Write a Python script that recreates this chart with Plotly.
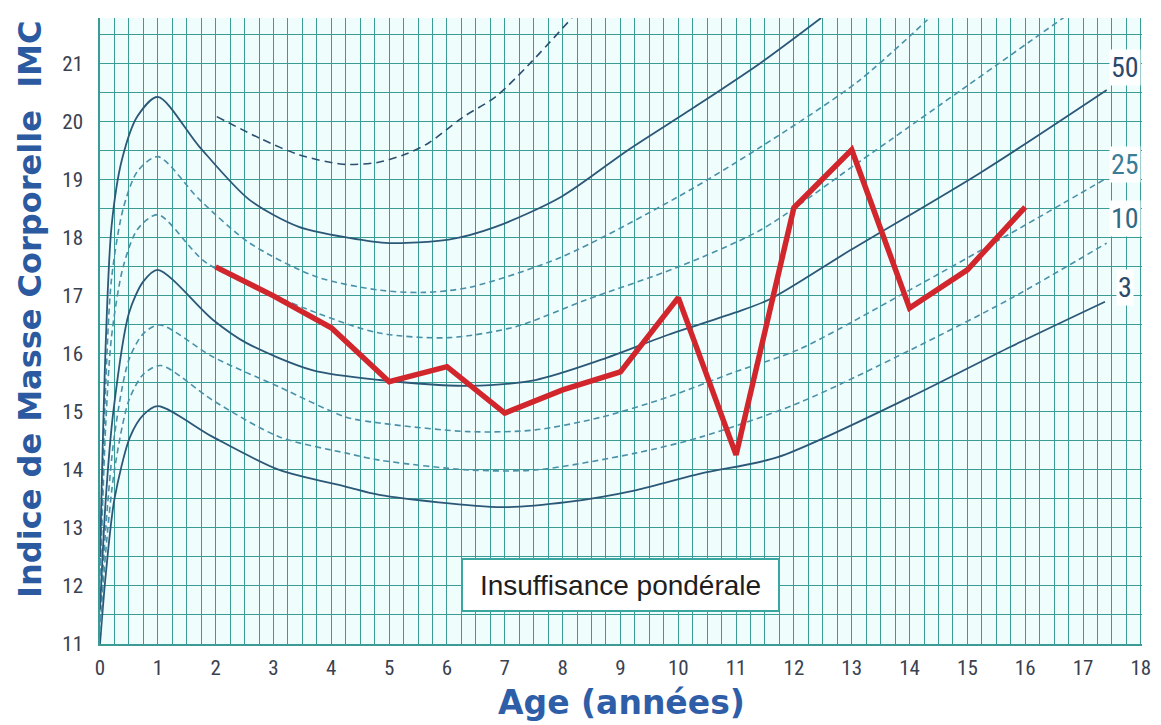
import plotly.graph_objects as go

# ---- data ----
ages_patient = [2, 3, 4, 5, 6, 7, 8, 9, 10, 11, 12, 13, 14, 15, 16]
bmi_patient = [17.5, 17.0, 16.45, 15.52, 15.78, 14.98, 15.38, 15.69, 16.97, 14.26, 18.52, 19.52, 16.79, 17.45, 18.53]

p97_x = [0, 0.1, 0.2, 0.38, 0.65, 1.0, 1.72, 2.58, 3.44, 4.31, 5.0, 6.03, 6.84, 7.98, 9.14, 10.29, 11.43, 12.47]
p97_y = [12.5, 16.2, 18.2, 19.35, 20.1, 20.43, 19.57, 18.66, 18.19, 18.0, 17.91, 17.97, 18.19, 18.71, 19.52, 20.26, 21.02, 21.79]

p90_x = [0, 0.1, 0.2, 0.4, 0.65, 1.0, 1.72, 2.59, 3.74, 4.83, 5.6, 6.4, 7.98, 10.0, 11.43, 13.1, 14.31]
p90_y = [12.2, 15.5, 17.3, 18.5, 19.15, 19.4, 18.66, 17.91, 17.33, 17.1, 17.06, 17.15, 17.67, 18.71, 19.57, 20.69, 21.76]

p75_x = [0, 0.1, 0.2, 0.4, 0.65, 1.0, 1.84, 3.74, 4.83, 6.03, 7.19, 8.4, 10.0, 11.43, 13.1, 16.67]
p75_y = [12.0, 14.8, 16.3, 17.5, 18.15, 18.4, 17.57, 16.71, 16.36, 16.28, 16.47, 16.93, 17.5, 18.14, 19.29, 21.8]

p50_x = [0, 0.1, 0.23, 0.5, 0.75, 1.0, 1.95, 2.53, 3.67, 4.83, 6.38, 7.53, 8.67, 9.83, 10.98, 11.6, 12.98, 15.22, 17.41]
p50_y = [11.6, 13.5, 15.0, 16.7, 17.25, 17.45, 16.59, 16.19, 15.72, 15.55, 15.45, 15.55, 15.9, 16.33, 16.71, 16.95, 17.79, 19.12, 20.55]

p25_x = [0, 0.1, 0.25, 0.5, 0.75, 1.03, 1.95, 3.1, 4.26, 4.83, 6.38, 7.53, 8.67, 9.83, 10.98, 12.07, 14.0, 15.7, 17.41]
p25_y = [11.4, 13.0, 14.6, 15.9, 16.35, 16.5, 15.95, 15.43, 14.91, 14.81, 14.66, 14.69, 14.91, 15.26, 15.69, 16.07, 17.1, 18.05, 19.03]

p10_x = [0, 0.1, 0.25, 0.5, 0.75, 1.05, 1.95, 3.1, 4.26, 4.83, 6.38, 7.53, 9.26, 10.4, 12.07, 14.02, 15.74, 17.41]
p10_y = [11.2, 12.6, 14.0, 15.2, 15.65, 15.8, 15.2, 14.57, 14.29, 14.17, 14.0, 14.0, 14.29, 14.57, 15.15, 16.07, 16.95, 17.91]

p3_x = [0, 0.1, 0.25, 0.52, 0.75, 1.0, 1.95, 3.1, 4.26, 4.83, 6.95, 8.1, 9.26, 10.4, 11.72, 14.02, 15.74, 17.38]
p3_y = [11.0, 12.2, 13.5, 14.57, 14.95, 15.1, 14.57, 14.0, 13.71, 13.57, 13.36, 13.45, 13.65, 13.94, 14.22, 15.26, 16.12, 16.9]

top_x = [2.02, 2.8, 3.45, 4.2, 4.8, 5.3, 5.69, 6.26, 6.84, 7.41, 8.16]
top_y = [20.09, 19.7, 19.43, 19.27, 19.3, 19.45, 19.64, 20.07, 20.43, 20.98, 21.79]

curve_labels = ["50", "25", "10", "3"]
curve_label_y = [20.93, 19.26, 18.34, 17.14]

x_ticks = list(range(0, 19))
y_ticks = list(range(11, 22))

# ---- styles ----
GRID = "#3b9c96"
SOLID = "#2c5877"
DASHED = "#4a91a8"
TOPDASH = "#2d4f70"
RED = "#d2262d"

fig = go.Figure()

def add_curve(xs, ys, color, dash, width):
    fig.add_trace(go.Scatter(x=xs, y=ys, mode="lines",
                             line=dict(color=color, width=width, dash=dash, shape="spline", smoothing=0.8),
                             hoverinfo="skip", showlegend=False))

add_curve(p3_x, p3_y, SOLID, "solid", 1.8)
add_curve(p10_x, p10_y, DASHED, "6px,4px", 1.6)
add_curve(p25_x, p25_y, DASHED, "6px,4px", 1.6)
add_curve(p50_x, p50_y, SOLID, "solid", 1.8)
add_curve(p75_x, p75_y, DASHED, "6px,4px", 1.6)
add_curve(p90_x, p90_y, DASHED, "6px,4px", 1.6)
add_curve(p97_x, p97_y, SOLID, "solid", 1.8)
add_curve(top_x, top_y, TOPDASH, "8px,5px", 1.6)

fig.add_trace(go.Scatter(x=ages_patient, y=bmi_patient, mode="lines",
                         line=dict(color=RED, width=5.5), hoverinfo="skip", showlegend=False))

label_colors = ["#2a4a6c", "#3b7d96", "#2f6a85", "#2a4a6c"]
for t, yv, c in zip(curve_labels, curve_label_y, label_colors):
    fig.add_annotation(x=17.72, y=yv, xref="x", yref="y", text=t, showarrow=False,
                       font=dict(family="Liberation Sans Narrow, Arial Narrow, Roboto Condensed, Liberation Sans", size=28, color=c),
                       bgcolor="#ffffff", borderpad=1, xanchor="center", yanchor="middle")

fig.add_annotation(x=9, y=12.02, xref="x", yref="y", text="Insuffisance pondérale", showarrow=False,
                   font=dict(family="Liberation Sans, Arial, sans-serif", size=28, color="#1e1e1e"),
                   bgcolor="#ffffff", bordercolor="#3aa6a0", borderwidth=2, borderpad=1,
                   width=313, height=48, align="center", valign="middle",
                   xanchor="center", yanchor="middle")

fig.add_annotation(x=0.5, y=-0.094, xref="paper", yref="paper", text="<b>Age (années)</b>", showarrow=False,
                   font=dict(family="DejaVu Sans, sans-serif", size=33, color="#2f5ea8"),
                   xanchor="center", yanchor="middle")
fig.add_annotation(x=-0.067, y=0.534, xref="paper", yref="paper",
                   text="<b>Indice de Masse Corporelle&nbsp;&nbsp;IMC</b>", showarrow=False, textangle=-90,
                   font=dict(family="DejaVu Sans, sans-serif", size=32, color="#2c5aa0"),
                   xanchor="center", yanchor="middle")

tickfont = dict(family="Liberation Sans Narrow, Arial Narrow, Roboto Condensed, Liberation Sans", size=21, color="#3a4150")

fig.update_xaxes(range=[0, 18.02], tickmode="array", tickvals=x_ticks, ticktext=[str(v) for v in x_ticks],
                 showgrid=True, gridcolor=GRID, gridwidth=1.3, zeroline=False,
                 showline=True, linecolor=GRID, linewidth=1.5,
                 ticks="outside", ticklen=4, tickcolor="rgba(0,0,0,0)", tickfont=tickfont,
                 ticklabeloverflow="allow",
                 minor=dict(dtick=0.25, tick0=0, showgrid=True, gridcolor=GRID, gridwidth=1.3),
                 fixedrange=True)
fig.update_yaxes(range=[11, 21.79], tickmode="array", tickvals=y_ticks, ticktext=[str(v) for v in y_ticks],
                 showgrid=True, gridcolor=GRID, gridwidth=1.3, zeroline=False,
                 showline=True, linecolor=GRID, linewidth=1.5,
                 ticks="outside", ticklen=11, tickcolor="rgba(0,0,0,0)", tickfont=tickfont,
                 minor=dict(dtick=0.5, tick0=11, showgrid=True, gridcolor=GRID, gridwidth=1.3),
                 fixedrange=True)

# page body adds an 8px margin, so the figure is sized/offset to compensate
fig.update_layout(width=1153, height=717, margin=dict(l=92, r=17, t=10, b=81),
                  plot_bgcolor="#effdfd", paper_bgcolor="#ffffff", showlegend=False)

fig.write_html("out.html")
